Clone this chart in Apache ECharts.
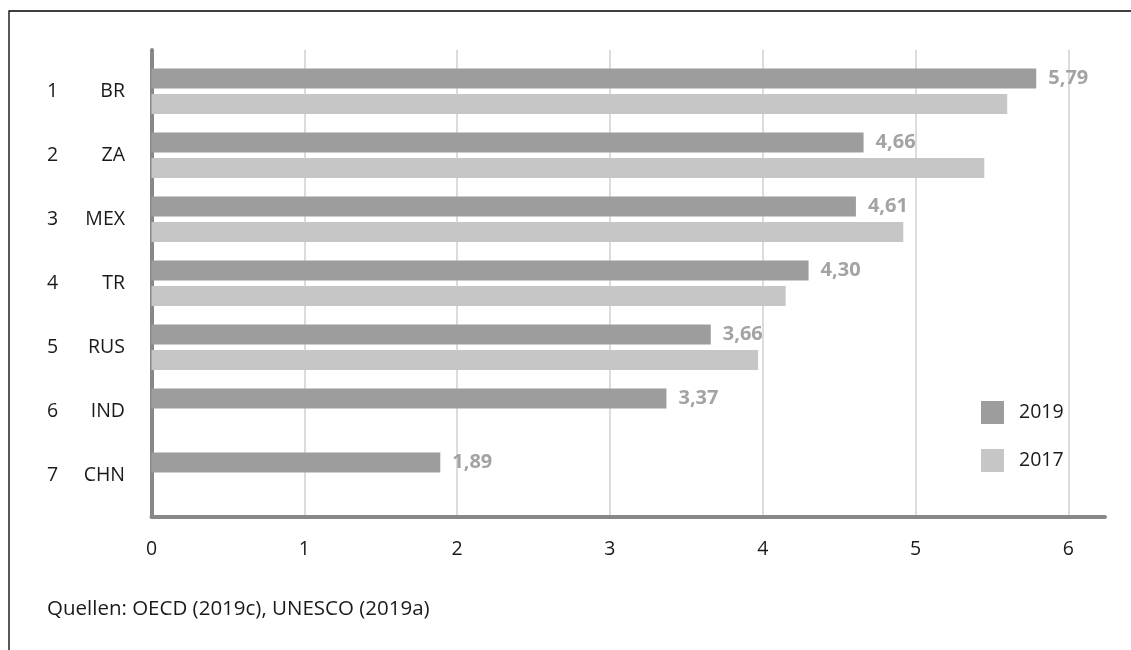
<!DOCTYPE html>
<html>
<head>
<meta charset="utf-8">
<script src="https://cdn.jsdelivr.net/npm/echarts@6/dist/echarts.min.js"></script>
<style>html,body{margin:0;padding:0;background:#fff}#c{width:1131px;height:650px}</style>
</head>
<body>
<div id="c"></div>
<script>
const ranks = ['1', '2', '3', '4', '5', '6', '7'];
const countries = ['BR', 'ZA', 'MEX', 'TR', 'RUS', 'IND', 'CHN'];
const values2019 = [5.79, 4.66, 4.61, 4.30, 3.66, 3.37, 1.89];
const values2017 = [5.60, 5.45, 4.92, 4.15, 3.97, null, null];
const seriesNames = ['2019', '2017'];
const sourceText = 'Quellen: OECD (2019c), UNESCO (2019a)';

const FONT = '"Open Sans", sans-serif';
const FS = 19.5;
const chart = echarts.init(document.getElementById('c'), null, {renderer: 'canvas'});

chart.setOption({
  animation: false,
  backgroundColor: '#ffffff',
  textStyle: {fontFamily: FONT},
  title: {
    text: sourceText,
    left: 47, top: 599, padding: 0,
    textStyle: {fontFamily: FONT, fontSize: 20.5, fontWeight: 'normal', color: '#1a1a1a'}
  },
  graphic: [{
    type: 'polyline',
    shape: {points: [[9, 650], [9, 11], [1131, 11]]},
    style: {stroke: '#000', lineWidth: 1.3, fill: null},
    silent: true
  }],
  legend: {
    orient: 'vertical',
    left: 981, top: 401, padding: 0,
    itemWidth: 23, itemHeight: 23, itemGap: 25,
    icon: 'rect',
    data: seriesNames,
    textStyle: {fontFamily: FONT, fontSize: FS, color: '#1a1a1a', padding: [0, 0, 0, 10]}
  },
  grid: [
    {left: 151.5, right: 26, top: 50, bottom: 133},
    {left: 151.5, right: 26, top: 59.3, bottom: 142.7}
  ],
  xAxis: [{
    gridIndex: 0, type: 'value', min: 0, max: 6.24, interval: 1,
    axisLine: {show: true, lineStyle: {color: '#888888', width: 4}},
    axisTick: {show: false},
    axisLabel: {
      fontFamily: FONT, fontSize: FS, color: '#1a1a1a', margin: 22,
      showMaxLabel: false,
      formatter: v => Number.isInteger(v) ? String(v) : ''
    },
    splitLine: {show: true, showMinLine: false, showMaxLine: false, lineStyle: {color: '#dcdcdc', width: 2}}
  }, {
    gridIndex: 1, type: 'value', min: 0, max: 6.24, show: false
  }],
  yAxis: [{
    gridIndex: 0, type: 'value', min: 0, max: 1,
    axisLine: {show: true, lineStyle: {color: '#888888', width: 4}},
    axisTick: {show: false}, axisLabel: {show: false}, splitLine: {show: false}
  }, {
    gridIndex: 1, type: 'category', inverse: true, data: countries,
    axisLine: {show: false}, axisTick: {show: false}, splitLine: {show: false},
    axisLabel: {
      margin: 26.5,
      formatter: (v, i) => '{n|' + ranks[i] + '}{c|' + v + '}',
      rich: {
        n: {fontFamily: FONT, fontSize: FS, color: '#1a1a1a', width: 30, align: 'left'},
        c: {fontFamily: FONT, fontSize: FS, color: '#1a1a1a', width: 48, align: 'right'}
      }
    }
  }],
  series: [{
    name: seriesNames[0], type: 'bar', xAxisIndex: 1, yAxisIndex: 1,
    data: values2019, barWidth: 20, barGap: '28%',
    itemStyle: {color: '#9d9d9d'},
    label: {
      show: true, position: 'right', distance: 12,
      fontFamily: FONT, fontSize: 20, fontWeight: 'bold', color: '#a3a3a3',
      formatter: p => p.value.toFixed(2).replace('.', ',')
    }
  }, {
    name: seriesNames[1], type: 'bar', xAxisIndex: 1, yAxisIndex: 1,
    data: values2017, barWidth: 20, barGap: '28%',
    itemStyle: {color: '#c6c6c6'}
  }]
});
</script>
</body>
</html>
